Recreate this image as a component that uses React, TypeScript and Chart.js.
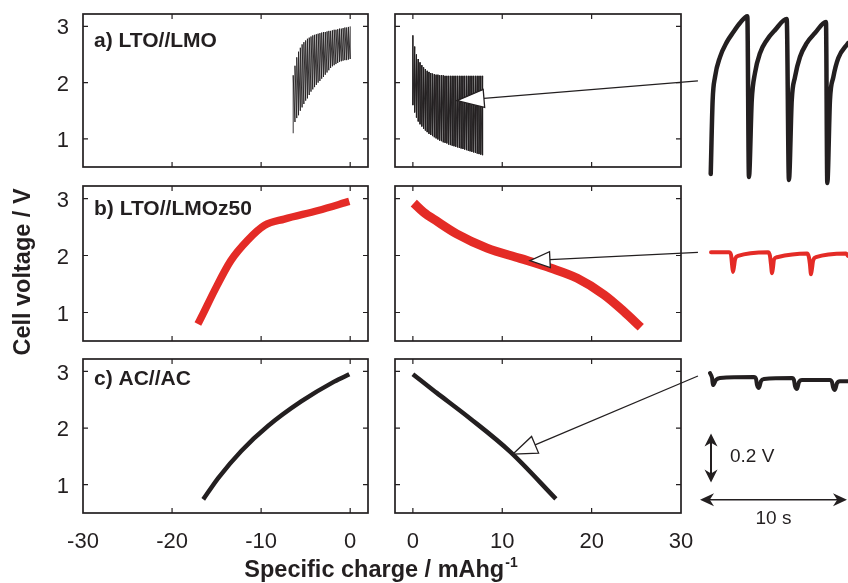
import React, { useEffect, useRef } from "react";
import { Chart, registerables } from "chart.js";

Chart.register(...registerables);

// ---------------- ticks ----------------
const xTicksCharge = [-30, -20, -10, 0];
const xTicksDischarge = [0, 10, 20, 30];
const yTicksVoltage = [1, 2, 3];

// ---------------- a) LTO//LMO pulsed charge (left) ----------------
const aChargeQ = [-6.4, -6.2, -6.0, -5.8, -5.6, -5.4, -5.2, -5.0, -4.8, -4.6, -4.4, -4.2, -4.0, -3.8, -3.6, -3.4, -3.2, -3.0, -2.8, -2.6, -2.4, -2.2, -2.0, -1.8, -1.6, -1.4, -1.2, -1.0, -0.8, -0.6, -0.4, -0.2, 0.0];
const aChargeHigh = [2.13, 2.30, 2.45, 2.55, 2.62, 2.68, 2.72, 2.75, 2.78, 2.80, 2.82, 2.84, 2.85, 2.86, 2.87, 2.88, 2.89, 2.90, 2.90, 2.91, 2.92, 2.92, 2.93, 2.94, 2.94, 2.95, 2.96, 2.96, 2.97, 2.98, 2.98, 2.99, 3.00];
const aChargeLow = [1.10, 1.30, 1.37, 1.42, 1.50, 1.56, 1.62, 1.68, 1.72, 1.78, 1.84, 1.88, 1.92, 1.96, 2.00, 2.03, 2.07, 2.10, 2.14, 2.18, 2.22, 2.26, 2.29, 2.31, 2.33, 2.35, 2.37, 2.38, 2.39, 2.40, 2.40, 2.41, 2.42];

// ---------------- a) pulsed discharge (right) ----------------
const aDischargeQ = [0.0, 0.2, 0.4, 0.6, 0.8, 1.0, 1.2, 1.4, 1.6, 1.8, 2.0, 2.2, 2.4, 2.6, 2.8, 3.0, 3.2, 3.4, 3.6, 3.8, 4.0, 4.2, 4.4, 4.6, 4.8, 5.0, 5.2, 5.4, 5.6, 5.8, 6.0, 6.2, 6.4, 6.6, 6.8, 7.0, 7.2, 7.4, 7.6, 7.8];
const aDischargeHigh = [2.84, 2.64, 2.50, 2.42, 2.36, 2.31, 2.27, 2.24, 2.21, 2.19, 2.17, 2.16, 2.15, 2.14, 2.14, 2.13, 2.13, 2.13, 2.12, 2.12, 2.12, 2.12, 2.12, 2.12, 2.12, 2.12, 2.12, 2.12, 2.12, 2.12, 2.12, 2.12, 2.12, 2.12, 2.12, 2.12, 2.12, 2.12, 2.12, 2.12];
const aDischargeLow = [1.60, 1.47, 1.38, 1.31, 1.26, 1.22, 1.18, 1.15, 1.12, 1.09, 1.07, 1.05, 1.03, 1.01, 0.99, 0.97, 0.96, 0.94, 0.93, 0.92, 0.90, 0.89, 0.88, 0.87, 0.86, 0.85, 0.84, 0.83, 0.82, 0.81, 0.80, 0.79, 0.78, 0.77, 0.76, 0.75, 0.74, 0.73, 0.72, 0.71];

// ---------------- b) LTO//LMOz50 ----------------
const bChargeQ = [-17.1, -16.7, -15.25, -13.4, -11.5, -9.6, -7.4, -3.6, -0.1];
const bChargeV = [0.80, 0.92, 1.38, 1.91, 2.27, 2.53, 2.64, 2.79, 2.95];
const bDischargeQ = [0.1, 1.2, 2.7, 4.9, 8.3, 12.0, 15.4, 18.4, 21.4, 23.6, 25.5];
const bDischargeV = [2.92, 2.76, 2.60, 2.38, 2.13, 1.95, 1.78, 1.60, 1.31, 1.02, 0.74];

// ---------------- c) AC//AC ----------------
const cChargeQ = [-16.5, -14.8, -12.2, -9.2, -5.5, -1.8, -0.1];
const cChargeV = [0.74, 1.12, 1.60, 2.04, 2.47, 2.82, 2.95];
const cDischargeQ = [0, 2.6, 6.4, 10.9, 16.0];
const cDischargeV = [2.95, 2.63, 2.17, 1.58, 0.75];

// ---------------- insets: time (s) vs. voltage (V, offset) ----------------
const insetAT = [0.73, 0.86, 1.02, 1.36, 1.82, 2.27, 2.72, 3.22, 3.33, 3.52, 3.74, 4.08, 4.54, 5.10, 5.90, 6.05, 6.24, 6.46, 6.80, 7.26, 7.82, 8.57, 8.66, 8.84, 9.07, 9.41, 10.07];
const insetAV = [1.67, 1.97, 2.065, 2.147, 2.208, 2.249, 2.286, 2.314, 1.657, 1.97, 2.082, 2.163, 2.216, 2.257, 2.302, 1.645, 1.97, 2.065, 2.147, 2.204, 2.245, 2.29, 1.633, 1.97, 2.065, 2.143, 2.204];
const insetBT = [0.75, 1.97, 2.11, 2.18, 2.24, 2.31, 2.38, 2.59, 4.63, 4.76, 4.83, 4.90, 4.97, 5.03, 5.24, 7.28, 7.41, 7.48, 7.55, 7.62, 7.69, 7.89, 9.93, 10.07];
const insetBV = [1.35, 1.35, 1.34, 1.30, 1.27, 1.29, 1.32, 1.335, 1.35, 1.335, 1.30, 1.265, 1.29, 1.32, 1.33, 1.345, 1.33, 1.30, 1.26, 1.285, 1.315, 1.33, 1.345, 1.335];
const insetCT = [0.68, 0.82, 0.88, 1.09, 1.36, 3.67, 3.81, 3.88, 4.01, 4.15, 4.35, 6.26, 6.39, 6.46, 6.60, 6.73, 6.94, 8.84, 8.98, 9.05, 9.18, 9.32, 9.52, 10.07];
const insetCV = [0.857, 0.837, 0.808, 0.829, 0.837, 0.841, 0.833, 0.808, 0.796, 0.824, 0.833, 0.837, 0.829, 0.804, 0.792, 0.820, 0.829, 0.829, 0.820, 0.800, 0.788, 0.816, 0.824, 0.824];

// ---------------- annotations ----------------
const panelLabels = ["a) LTO//LMO", "b) LTO//LMOz50", "c) AC//AC"];
const arrowTipQ = [4.94, 13.1, 11.2];
const arrowTipV = [1.68, 1.91, 1.54];
const arrowTailT = [-0.14, -0.14, -0.14];
const arrowTailV = [2.05, 1.35, 0.845];
const scaleBarVolts = 0.2;
const scaleBarSeconds = 10;
const yTitle = "Cell voltage / V";
const xTitle = "Specific charge / mAhg";
const xTitleSup = "-1";

// ---------------- layout / style ----------------
const W = 848;
const H = 583;
const COLS = [
  { l: 83, r: 368, min: -30, max: 2, ticks: xTicksCharge },
  { l: 395, r: 681, min: -2, max: 30, ticks: xTicksDischarge },
];
const ROWS = [
  { t: 14, b: 167, labelY: 33 },
  { t: 186, b: 341, labelY: 29 },
  { t: 359, b: 513, labelY: 26 },
];
const Y_MIN = 0.5;
const Y_MAX = 3.22;
const X_AXIS_H = 40;
const INK = "#231f20";
const RED = "#e42b26";
const FONT = '"Liberation Sans", Arial, Helvetica, sans-serif';

const zip = (xs: number[], ys: number[]) => xs.map((x, i) => ({ x, y: ys[i] }));

function pulses(q: number[], first: number[], second: number[]) {
  const pts: { x: number; y: number }[] = [];
  q.forEach((x, i) => {
    pts.push({ x, y: first[i] });
    pts.push({ x, y: second[i] });
  });
  return pts;
}

const framePlugin = {
  id: "panelFrame",
  afterDatasetsDraw(chart: any, _args: any, opts: any) {
    const { ctx, chartArea: a, scales } = chart;
    ctx.save();
    ctx.strokeStyle = INK;
    ctx.lineWidth = 1.7;
    ctx.strokeRect(a.left, a.top, a.right - a.left, a.bottom - a.top);
    ctx.lineWidth = 1.2;
    ctx.beginPath();
    for (const v of opts.xTicks) {
      const px = scales.x.getPixelForValue(v);
      if (px <= a.left + 1 || px >= a.right - 1) continue;
      ctx.moveTo(px, a.top);
      ctx.lineTo(px, a.top + 5);
      ctx.moveTo(px, a.bottom);
      ctx.lineTo(px, a.bottom - 5);
    }
    for (const v of opts.yTicks) {
      const py = scales.y.getPixelForValue(v);
      ctx.moveTo(a.left, py);
      ctx.lineTo(a.left + 5, py);
      ctx.moveTo(a.right, py);
      ctx.lineTo(a.right - 5, py);
    }
    ctx.stroke();
    if (opts.label) {
      ctx.font = `bold 21px ${FONT}`;
      ctx.fillStyle = INK;
      ctx.textAlign = "left";
      ctx.textBaseline = "alphabetic";
      ctx.fillText(opts.label, a.left + 11, a.top + opts.labelY);
    }
    ctx.restore();
  },
};

function panelConfig(row: number, col: number, datasets: any[]) {
  const c = COLS[col];
  const r = ROWS[row];
  const showY = col === 0;
  const showX = row === 2;
  return {
    type: "line",
    data: { datasets },
    options: {
      responsive: false,
      animation: false,
      devicePixelRatio: 1,
      events: [],
      layout: {
        padding: {
          left: showY ? 0 : c.l,
          right: W - c.r,
          top: r.t,
          bottom: showX ? H - r.b - X_AXIS_H : H - r.b,
        },
      },
      elements: { point: { radius: 0 } },
      plugins: {
        legend: { display: false },
        tooltip: { enabled: false },
        panelFrame: { label: col === 0 ? panelLabels[row] : "", labelY: r.labelY, xTicks: c.ticks, yTicks: yTicksVoltage },
      },
      scales: {
        x: {
          type: "linear",
          min: c.min,
          max: c.max,
          display: showX,
          grid: { display: false, drawTicks: false },
          border: { display: false },
          ticks: { color: INK, font: { family: FONT, size: 22 }, padding: 16, maxRotation: 0 },
          afterBuildTicks: (s: any) => {
            s.ticks = c.ticks.map((v) => ({ value: v }));
          },
          afterFit: (s: any) => {
            s.paddingLeft = 0;
            s.paddingRight = 0;
            if (showX) s.height = X_AXIS_H;
          },
        },
        y: {
          type: "linear",
          min: Y_MIN,
          max: Y_MAX,
          display: showY,
          grid: { display: false, drawTicks: false },
          border: { display: false },
          ticks: { color: INK, font: { family: FONT, size: 22 }, padding: 14, labelOffset: 2 },
          afterBuildTicks: (s: any) => {
            s.ticks = yTicksVoltage.map((v) => ({ value: v }));
          },
          afterFit: (s: any) => {
            s.paddingTop = 0;
            s.paddingBottom = 0;
            if (showY) s.width = c.l;
          },
        },
      },
    },
    plugins: [framePlugin],
  };
}

function lineDs(data: any[], color: string, width: number, extra: any = {}) {
  return {
    data,
    borderColor: color,
    borderWidth: width,
    pointRadius: 0,
    fill: false,
    tension: 0,
    borderJoinStyle: "bevel",
    ...extra,
  };
}

function openHead(ctx: any, tx: number, ty: number, fx: number, fy: number, len: number, half: number) {
  const ang = Math.atan2(fy - ty, fx - tx);
  const bx = tx + Math.cos(ang) * len;
  const by = ty + Math.sin(ang) * len;
  const nx = -Math.sin(ang) * half;
  const ny = Math.cos(ang) * half;
  ctx.beginPath();
  ctx.moveTo(fx, fy);
  ctx.lineTo(bx, by);
  ctx.stroke();
  ctx.beginPath();
  ctx.moveTo(tx, ty);
  ctx.lineTo(bx + nx, by + ny);
  ctx.lineTo(bx - nx, by - ny);
  ctx.closePath();
  ctx.fillStyle = "#fff";
  ctx.fill();
  ctx.stroke();
}

function solidHead(ctx: any, tx: number, ty: number, ang: number, len: number, half: number) {
  const bx = tx - Math.cos(ang) * len;
  const by = ty - Math.sin(ang) * len;
  const nx = -Math.sin(ang) * half;
  const ny = Math.cos(ang) * half;
  const mx = tx - Math.cos(ang) * len * 0.7;
  const my = ty - Math.sin(ang) * len * 0.7;
  ctx.beginPath();
  ctx.moveTo(tx, ty);
  ctx.lineTo(bx + nx, by + ny);
  ctx.lineTo(mx, my);
  ctx.lineTo(bx - nx, by - ny);
  ctx.closePath();
  ctx.fill();
}

export default function App() {
  const canvases = useRef<(HTMLCanvasElement | null)[]>([]);

  useEffect(() => {
    const panelSets = [
      [
        [lineDs(pulses(aChargeQ, aChargeLow, aChargeHigh), INK, 0.9)],
        [lineDs(pulses(aDischargeQ, aDischargeHigh, aDischargeLow), INK, 0.9)],
      ],
      [
        [lineDs(zip(bChargeQ, bChargeV), RED, 7.5, { cubicInterpolationMode: "monotone", borderCapStyle: "butt" })],
        [lineDs(zip(bDischargeQ, bDischargeV), RED, 9, { cubicInterpolationMode: "monotone", borderCapStyle: "butt" })],
      ],
      [
        [lineDs(zip(cChargeQ, cChargeV), INK, 4.5, { cubicInterpolationMode: "monotone" })],
        [lineDs(zip(cDischargeQ, cDischargeV), INK, 4.5, { cubicInterpolationMode: "monotone" })],
      ],
    ];
    const panels: Chart[][] = [];
    let idx = 0;
    for (let r = 0; r < 3; r++) {
      panels[r] = [];
      for (let c = 0; c < 2; c++) {
        const cv = canvases.current[idx++];
        panels[r][c] = new Chart(cv as any, panelConfig(r, c, panelSets[r][c]) as any);
      }
    }

    const overlayPlugin = {
      id: "overlayNotes",
      afterDraw(chart: any) {
        const { ctx, scales } = chart;
        const sx = scales.x;
        const sy = scales.y;
        ctx.save();
        ctx.strokeStyle = INK;
        ctx.fillStyle = INK;
        ctx.lineJoin = "miter";
        // arrows from insets to curves
        const heads = [
          [27, 9],
          [20, 8],
          [24, 9],
        ];
        for (let i = 0; i < 3; i++) {
          const p = panels[i][1] as any;
          const tx = p.scales.x.getPixelForValue(arrowTipQ[i]);
          const ty = p.scales.y.getPixelForValue(arrowTipV[i]);
          const fx = sx.getPixelForValue(arrowTailT[i]);
          const fy = sy.getPixelForValue(arrowTailV[i]);
          ctx.lineWidth = 1.3;
          openHead(ctx, tx, ty, fx, fy, heads[i][0], heads[i][1]);
        }
        // vertical 0.2 V scale bar
        const vbX = sx.getPixelForValue(0.75);
        const vbTop = sy.getPixelForValue(0.61);
        const vbBot = sy.getPixelForValue(0.61 - scaleBarVolts);
        ctx.fillStyle = INK;
        ctx.lineWidth = 2;
        ctx.beginPath();
        ctx.moveTo(vbX, vbTop + 8);
        ctx.lineTo(vbX, vbBot - 8);
        ctx.stroke();
        solidHead(ctx, vbX, vbTop, -Math.PI / 2, 13, 6.5);
        solidHead(ctx, vbX, vbBot, Math.PI / 2, 13, 6.5);
        // horizontal 10 s scale bar
        const hbY = sy.getPixelForValue(0.34);
        const hbL = sx.getPixelForValue(0);
        const hbR = sx.getPixelForValue(scaleBarSeconds);
        ctx.lineWidth = 1.6;
        ctx.beginPath();
        ctx.moveTo(hbL + 8, hbY);
        ctx.lineTo(hbR - 8, hbY);
        ctx.stroke();
        solidHead(ctx, hbL, hbY, Math.PI, 14, 6.5);
        solidHead(ctx, hbR, hbY, 0, 14, 6.5);
        // scale labels
        ctx.font = `19px ${FONT}`;
        ctx.textBaseline = "alphabetic";
        ctx.textAlign = "left";
        ctx.fillText(`${scaleBarVolts} V`, sx.getPixelForValue(2.04), sy.getPixelForValue(0.494));
        ctx.textAlign = "center";
        ctx.fillText(`${scaleBarSeconds} s`, sx.getPixelForValue(scaleBarSeconds / 2), sy.getPixelForValue(0.241));
        // axis titles
        ctx.font = `bold 23.5px ${FONT}`;
        ctx.save();
        ctx.translate(30, 272);
        ctx.rotate(-Math.PI / 2);
        ctx.textAlign = "center";
        ctx.fillText(yTitle, 0, 0);
        ctx.restore();
        ctx.textAlign = "left";
        ctx.font = `bold 23.5px ${FONT}`;
        const tw = ctx.measureText(xTitle).width;
        ctx.font = `bold 14px ${FONT}`;
        const sw = ctx.measureText(xTitleSup).width;
        const startX = 381 - (tw + sw + 1) / 2;
        ctx.font = `bold 23.5px ${FONT}`;
        ctx.fillText(xTitle, startX, 577);
        ctx.font = `bold 14px ${FONT}`;
        ctx.fillText(xTitleSup, startX + tw + 1, 567);
        ctx.restore();
      },
    };

    const insetDs = (t: number[], v: number[], color: string, w: number) => ({
      data: zip(t, v),
      borderColor: color,
      borderWidth: w,
      pointRadius: 0,
      fill: false,
      clip: false,
      cubicInterpolationMode: "monotone",
      borderCapStyle: "round",
      borderJoinStyle: "round",
    });

    const overlay = new Chart(canvases.current[6] as any, {
      type: "line",
      data: {
        datasets: [
          insetDs(insetAT, insetAV, INK, 4.5),
          insetDs(insetBT, insetBV, RED, 4),
          insetDs(insetCT, insetCV, INK, 4),
        ],
      },
      options: {
        responsive: false,
        animation: false,
        devicePixelRatio: 1,
        events: [],
        layout: { padding: { left: 700, right: 1, top: 0, bottom: 0 } },
        plugins: { legend: { display: false }, tooltip: { enabled: false } },
        scales: {
          x: { type: "linear", min: 0, max: 10, display: false },
          y: { type: "linear", min: 0, max: 2.38, display: false },
        },
      },
      plugins: [overlayPlugin],
    } as any);

    return () => {
      overlay.destroy();
      panels.forEach((row) => row.forEach((c) => c.destroy()));
    };
  }, []);

  return (
    <div style={{ position: "fixed", left: 0, top: 0, width: W, height: H, background: "#fff" }}>
      {Array.from({ length: 7 }).map((_, i) => (
        <canvas
          key={i}
          ref={(el) => {
            canvases.current[i] = el;
          }}
          width={W}
          height={H}
          style={{ position: "absolute", left: 0, top: 0, width: W, height: H }}
        />
      ))}
    </div>
  );
}
